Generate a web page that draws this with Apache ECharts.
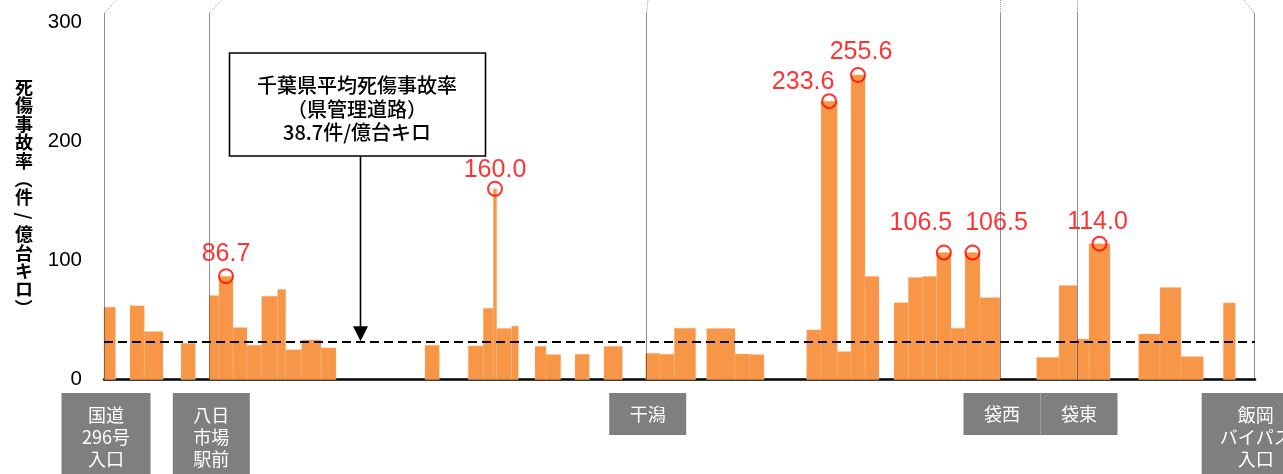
<!DOCTYPE html>
<html>
<head>
<meta charset="utf-8">
<script src="https://cdn.jsdelivr.net/npm/echarts@6/dist/echarts.min.js"></script>
<style>
html,body{margin:0;padding:0;background:#fff;}
#chart{width:1283px;height:474px;}
</style>
</head>
<body>
<div id="chart"></div>
<script>
// ---- data (road distance units along the route, rate in 件/億台キロ) ----
const segStart = [0, 26, 40.3, 77, 105.3, 115, 129, 143, 157.7, 173.7, 181.7, 197.7, 217,
  321, 364.3, 379.3, 389.3, 392.7, 407.7, 431, 442, 471, 500,
  541.7, 556, 570.3, 602.7, 631, 646, 702.7, 717, 733.3, 747, 761,
  790, 804.3, 818.7, 832.7, 847, 861, 876,
  932.7, 955, 973, 985, 1034.7, 1056, 1077, 1119.3];
const segEnd = [11.5, 40.3, 59, 91.3, 115, 129, 143, 157.7, 173.7, 181.7, 197.7, 217, 232,
  335.3, 379.3, 389.3, 392.7, 407.7, 414.3, 442, 456.7, 485.3, 518.3,
  556, 570.3, 591.7, 631, 646, 660, 717, 733.3, 747, 761, 775,
  804.3, 818.7, 832.7, 847, 861, 876, 896,
  955, 973, 985, 1006, 1056, 1077, 1099.3, 1131.3];
const rate = [60.7, 61.8, 40.2, 30.4, 70.4, 86.7, 43.5, 28.7, 69.9, 75.5, 25.0, 33.2, 26.5,
  28.7, 28.2, 59.8, 160.0, 42.8, 44.8, 27.8, 20.9, 21.2, 27.8,
  22.0, 21.2, 43.0, 42.8, 21.4, 20.9, 41.6, 233.6, 23.4, 255.6, 86.4,
  64.5, 85.5, 86.4, 106.5, 43.0, 106.5, 68.7,
  18.6, 78.8, 34.0, 114.0, 38.2, 77.1, 19.2, 64.3];
const peakIdx = [5, 16, 30, 32, 37, 39, 44];
const avgLineValue = 31.3;
const avgText = ['千葉県平均死傷事故率', '（県管理道路）', '38.7件/億台キロ'];
const landmarkNames = ['国道\n296号\n入口', '八日\n市場\n駅前', '干潟', '袋西', '袋東', '飯岡\nバイパス\n入口'];
const landmarkPos = [0, 105.3, 541.7, 896, 973, 1149.7];
const yTicks = [0, 100, 200, 300];
const yTitle = '死傷事故率（件/億台キロ）';
const xMax = 1151;

const CJK = "'Noto Sans CJK JP', 'Noto Sans', sans-serif";
const NUM = "'Liberation Sans', Arial, sans-serif";

const chart = echarts.init(document.getElementById('chart'), null, {renderer: 'canvas'});

const barData = segStart.map((s, i) => [s, segEnd[i], rate[i]]);
const peakData = peakIdx.map(i => [(segStart[i] + segEnd[i]) / 2, rate[i]]);
const labelOffsets = [[0, -22], [0, -19], [-26, -19], [3, -23], [-23, -29], [24, -29], [-2, -22]];

chart.setOption({
  animation: false,
  backgroundColor: '#fff',
  grid: {left: 104, right: 28, top: 22, bottom: 94.5},
  xAxis: {
    type: 'value', min: 0, max: xMax,
    axisLine: {show: true, onZero: true, lineStyle: {color: '#000', width: 2.5}},
    axisTick: {show: false}, axisLabel: {show: false}, splitLine: {show: false}
  },
  yAxis: {
    type: 'value', min: 0, max: 300, interval: 100,
    axisLine: {show: false}, axisTick: {show: false}, splitLine: {show: false},
    axisLabel: {color: '#000', fontSize: 20.5, fontFamily: NUM, margin: 22,
      formatter: v => yTicks.includes(v) ? String(v) : ''}
  },
  series: [
    {
      type: 'custom',
      data: barData,
      encode: {x: [0, 1], y: 2},
      renderItem: function (params, api) {
        const p0 = api.coord([api.value(0), 0]);
        const p1 = api.coord([api.value(1), api.value(2)]);
        return {
          type: 'rect',
          shape: {x: p0[0], y: p1[1], width: p1[0] - p0[0], height: p0[1] - p1[1]},
          style: {fill: '#F79646', stroke: '#F9B584', lineWidth: 0.4}
        };
      },
      z: 2,
      markLine: {
        silent: true, symbol: 'none',
        lineStyle: {color: '#000', type: [9, 5], width: 2},
        label: {show: false},
        data: [{yAxis: avgLineValue}],
        z: 5
      }
    },
    {
      type: 'scatter',
      data: peakData.map((d, k) => ({
        value: d,
        label: {offset: labelOffsets[k]}
      })),
      symbol: 'circle', symbolSize: 14,
      itemStyle: {color: 'rgba(0,0,0,0)', borderColor: '#FF0000', borderWidth: 2},
      label: {
        show: true, position: 'inside', color: '#FF0000', fontSize: 25, fontFamily: NUM,
        formatter: p => p.value[1].toFixed(1)
      },
      z: 6
    }
  ]
});

function px(x, y) { return chart.convertToPixel({gridIndex: 0}, [x, y]); }

const g = [];
// landmark dotted divider lines with top connectors
const topDx = [12, 12, 1.5, 0, 0, -11];
landmarkPos.forEach((p, i) => {
  const b = px(p, 0);
  const x = Math.round(b[0]) + 0.5;
  g.push({type: 'line', shape: {x1: x, y1: b[1], x2: x, y2: 13}, silent: true, z: 3,
    style: {stroke: '#222', lineWidth: 1, lineDash: [1, 1]}});
  g.push({type: 'line', shape: {x1: x, y1: 13, x2: x + topDx[i], y2: 0}, silent: true, z: 3,
    style: {stroke: '#999', lineWidth: 1, lineDash: [1, 1]}});
});

// landmark boxes
const boxW = [89, 77, 77, 77, 77, 108];
landmarkNames.forEach((n, i) => {
  const c = px(landmarkPos[i], 0)[0] + 2;
  const lines = n.split('\n').length;
  const h = lines > 1 ? 84 : 42;
  g.push({type: 'rect', shape: {x: c - boxW[i] / 2, y: 393, width: boxW[i], height: h}, silent: true,
    style: {fill: '#7F7F7F'}});
  g.push({type: 'text', x: c, y: 393 + (lines > 1 ? 44 : 21), silent: true, z: 10,
    style: {text: n, fill: '#fff', font: '18px ' + CJK, lineHeight: 22.3, align: 'center', verticalAlign: 'middle'}});
});

// annotation box with arrow
g.push({type: 'rect', shape: {x: 229.5, y: 53, width: 256, height: 103}, silent: true, z: 8,
  style: {fill: '#fff', stroke: '#000', lineWidth: 1.6}});
const lineYs = [85, 109.5, 132.5];
avgText.forEach((t, i) => {
  g.push({type: 'text', x: 357, y: lineYs[i], silent: true, z: 9,
    style: {text: t, fill: '#000', font: '500 20px ' + CJK, align: 'center', verticalAlign: 'middle'}});
});
const tip = px(0, avgLineValue);
const ax = 360.5;
g.push({type: 'line', shape: {x1: ax, y1: 156, x2: ax, y2: tip[1] - 12}, silent: true, z: 8,
  style: {stroke: '#000', lineWidth: 1.6}});
g.push({type: 'polygon', shape: {points: [[ax - 7.5, tip[1] - 16], [ax + 7.5, tip[1] - 16], [ax, tip[1] - 1]]},
  silent: true, z: 8, style: {fill: '#000'}});

// vertical y-axis title, character by character
const chars = Array.from(yTitle);
const step = 18.4, top0 = 78 + 9.2;
chars.forEach((ch, i) => {
  const rot = (ch === '（' || ch === '）' || ch === '/') ? -Math.PI / 2 : 0;
  g.push({type: 'text', x: 24, y: top0 + i * step, rotation: rot, silent: true,
    style: {text: ch, fill: '#000', font: 'bold 18px ' + CJK, align: 'center', verticalAlign: 'middle'}});
});

chart.setOption({graphic: g});
</script>
</body>
</html>
